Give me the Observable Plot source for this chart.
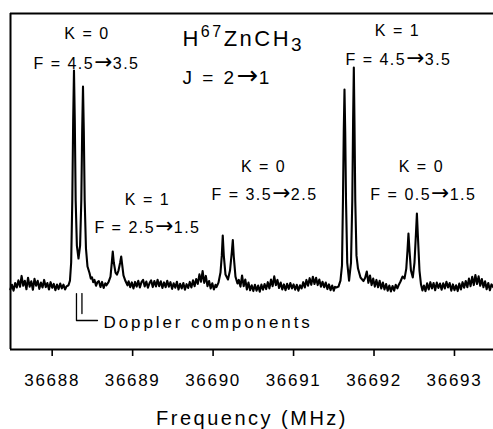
<!DOCTYPE html>
<html><head><meta charset="utf-8">
<script src="https://cdn.jsdelivr.net/npm/d3@7"></script>
<script src="https://cdn.jsdelivr.net/npm/@observablehq/plot@0.6"></script>
<style>
body{margin:0;background:#fff;}
svg{display:block;}
svg text{font-family:"Liberation Sans",Arial,sans-serif;}
g[aria-label="x-axis tick label"] text{letter-spacing:1.7px;}
g[aria-description="annotation"] text{letter-spacing:1.5px;}
g[aria-description="axis-title"] text{letter-spacing:2.5px;}
g[aria-description="doppler-note"] text{letter-spacing:2.9px;}
g[aria-description="species"] text{letter-spacing:2.5px;}
g[aria-description="transition"] text{letter-spacing:2.5px;}
tspan.arrow{font-family:"DejaVu Sans",sans-serif;letter-spacing:0.5px;}
</style></head><body><div id="chart"></div>
<script>
// Spectrum trace (frequency in MHz, intensity in arbitrary units, baseline ~0)
const freq = [
36687.48,36687.50,36687.52,36687.54,36687.56,36687.58,36687.60,36687.62,36687.64,36687.66,
36687.68,36687.70,36687.72,36687.74,36687.76,36687.78,36687.80,36687.82,36687.84,36687.86,
36687.88,36687.90,36687.92,36687.94,36687.96,36687.98,36688.00,36688.02,36688.04,36688.06,
36688.08,36688.10,36688.12,36688.14,36688.16,36688.178,
36688.203,36688.221,36688.236,36688.250,36688.261,36688.271,36688.281,36688.292,36688.307,36688.327,
36688.347,36688.362,36688.373,36688.383,36688.393,36688.404,36688.420,36688.439,36688.464,36688.48,
36688.495,36688.51,36688.526,36688.545,36688.563,
36688.58,36688.60,36688.62,36688.64,36688.66,
36688.675,36688.700,36688.725,36688.741,36688.753,36688.766,36688.787,36688.805,36688.824,36688.845,
36688.858,36688.870,36688.886,36688.911,36688.936,
36688.95,36688.97,36688.99,36689.01,36689.03,36689.05,36689.07,36689.09,36689.11,36689.13,
36689.15,36689.17,36689.19,36689.21,36689.23,36689.25,36689.27,36689.29,36689.31,36689.33,
36689.35,36689.37,36689.39,36689.41,36689.43,36689.45,36689.47,36689.49,36689.51,36689.53,
36689.55,36689.57,36689.59,36689.61,36689.63,36689.65,36689.67,36689.69,36689.71,36689.73,
36689.75,36689.77,36689.79,36689.81,36689.83,36689.85,36689.87,36689.89,36689.91,36689.93,
36689.95,36689.97,36689.99,36690.01,36690.03,
36690.042,36690.067,36690.092,36690.108,36690.120,36690.133,36690.154,36690.185,36690.210,36690.232,
36690.245,36690.257,36690.278,36690.303,
36690.32,36690.34,36690.36,36690.38,36690.40,36690.42,36690.44,36690.46,36690.48,36690.50,
36690.52,36690.54,36690.56,36690.58,36690.60,36690.62,36690.64,36690.66,36690.68,36690.70,
36690.72,36690.74,36690.76,36690.78,36690.80,36690.82,36690.84,36690.86,36690.88,36690.90,
36690.92,36690.94,36690.96,36690.98,36691.00,36691.02,36691.04,36691.06,36691.08,36691.10,
36691.12,36691.14,36691.16,36691.18,36691.20,36691.22,36691.24,36691.26,36691.28,36691.30,
36691.32,36691.34,36691.36,36691.38,36691.40,36691.42,36691.44,36691.46,36691.48,36691.50,
36691.515,
36691.533,36691.558,36691.583,36691.602,36691.614,36691.624,36691.633,36691.642,36691.652,36691.667,
36691.690,36691.714,36691.730,36691.740,36691.749,36691.757,36691.767,36691.782,36691.801,36691.832,
36691.869,
36691.89,36691.91,36691.93,36691.95,36691.97,36691.99,36692.01,36692.03,36692.05,36692.07,
36692.09,36692.11,36692.13,36692.15,36692.17,36692.19,36692.21,36692.23,36692.25,36692.27,
36692.29,
36692.304,36692.329,36692.354,36692.379,36692.401,36692.416,36692.428,36692.441,36692.459,36692.482,
36692.503,36692.520,36692.533,36692.545,36692.565,36692.584,36692.602,
36692.62,36692.64,36692.66,36692.68,36692.70,36692.72,36692.74,36692.76,36692.78,36692.80,
36692.82,36692.84,36692.86,36692.88,36692.90,36692.92,36692.94,36692.96,36692.98,36693.00,
36693.02,36693.04,36693.06,36693.08,36693.10,36693.12,36693.14,36693.16,36693.18,36693.20,
36693.22,36693.24,36693.26,36693.28,36693.30,36693.32,36693.34,36693.36,36693.38,36693.40,
36693.42,36693.44,36693.46,36693.48
];
const intensity = [
-0.8,1.2,-1.4,2.0,0.0,3.2,0.3,5.2,0.8,3.0,
-0.8,4.4,0.4,2.8,-1.0,3.9,0.8,3.0,-0.6,2.2,
0.0,3.4,0.2,2.0,-0.9,2.4,-0.1,1.6,-1.2,1.3,
-0.7,1.8,-0.4,1.3,-0.9,0.5,
1.0,3.1,11.2,39,74.9,97.3,74.9,39,18.8,13.0,
18.8,39,70.4,90.1,70.4,39,17.5,9.4,6.5,4.0,
4.6,2.4,3.4,0.8,2.4,
2.9,0.2,2.5,-0.2,1.9,
1.0,2.4,4.9,11.2,16.1,11.2,6.7,5.8,7.6,11.2,
13.9,10.3,5.4,2.9,1.0,
2.8,0.1,2.3,-0.4,2.5,0.4,3.0,0.0,2.4,3.4,
0.5,2.7,-0.1,2.0,3.2,0.2,2.9,0.5,3.5,0.6,
2.8,-0.2,2.3,0.1,3.0,0.4,2.4,-0.6,1.9,-0.1,
2.6,-0.9,1.7,-0.4,2.0,-1.0,1.5,-0.2,2.5,0.0,
3.2,0.6,3.8,1.6,5.9,2.6,7.4,2.1,5.2,0.6,
2.9,-0.4,1.9,-0.9,1.2,
0.2,2.2,6.7,14.3,23.3,14.3,5.8,3.6,7.6,15.7,
21.3,13.9,4.9,1.8,
3.4,0.4,5.4,0.6,3.6,-0.9,2.2,-1.2,1.0,-1.6,
1.2,-1.4,0.9,-1.9,1.3,-1.0,1.6,-0.7,2.4,-0.4,
3.6,0.6,5.0,1.1,3.4,-0.2,2.2,-0.9,1.4,-1.2,
1.7,-0.6,2.0,-0.4,1.4,-1.0,1.2,-1.4,1.0,-0.4,
2.4,0.0,3.4,0.8,4.2,1.2,4.8,1.6,4.4,1.1,
3.6,0.4,2.6,0.1,2.2,-0.7,1.4,-1.2,0.9,-1.4,
0.3,
0,0.4,3.1,9.9,39,70,88.8,70,39,11.2,
3.1,11.2,39,74.4,98.7,74.4,39,14.3,8.5,4.5,
2.9,
4.4,7.2,2.1,5.4,1.1,4.0,0.4,3.4,0.1,3.0,
-0.4,2.2,-0.9,1.6,-1.4,0.9,-1.8,0.7,-1.4,1.2,
-0.4,
0.9,2.7,4.9,4.0,8.5,16.6,24.2,16.6,7.6,4.5,
11.2,23.3,33.2,23.3,7.6,1.3,-1.3,
0.9,-1.6,1.9,-0.9,2.4,-0.4,2.0,-1.2,2.2,-0.2,
1.8,-1.0,1.9,-0.4,2.6,0.0,2.0,-1.4,1.4,-1.2,
1.0,-1.6,1.8,-0.9,2.4,-0.1,2.9,0.1,4.0,0.6,
4.8,1.1,5.6,1.6,5.0,0.8,3.8,0.1,2.8,-0.8,
2.0,-1.2,1.4,0.2
];

// Axis
const xDomain = [36687.482, 36693.485];
const yDomain = [-27.8, 122.9];
const tickValues = [36688, 36689, 36690, 36691, 36692, 36693];
const axisTitle = "Frequency (MHz)";

// Line assignments (two text rows each)
const labelText = ["K = 0", "F = 4.5\u21923.5", "K = 1", "F = 2.5\u21921.5", "K = 0", "F = 3.5\u21922.5",
                   "K = 1", "F = 4.5\u21923.5", "K = 0", "F = 0.5\u21921.5"];
const labelFreq = [36688.432, 36688.426, 36689.184, 36689.184, 36690.627, 36690.639,
                   36692.291, 36692.304, 36692.589, 36692.614];
const labelLevel = [113.9, 100.4, 39.5, 26.9, 54.3, 41.7, 115.2, 102.2, 54.3, 41.7];

// Species / transition label
const titleParts = ["H", "67", "ZnCH", "3"];
const titleFreq = 36689.619;
const titleLevel = 111.4;
const transitionText = "J = 2\u21921";
const transitionLevel = 94.2;

// Doppler components bracket
const bracketFreq = [36688.302, 36688.302, 36688.563, 36688.370, 36688.370];
const bracketLevel = [-2.7, -14.8, -14.8, -2.7, -11.7];
const bracketPart = ["a", "a", "a", "b", "b"];
const dopplerText = "Doppler components";
const dopplerFreq = 36688.639;
const dopplerLevel = -15.5;

const trace = freq.map((f, i) => ({f, v: intensity[i]}));
const labels = labelText.map((t, i) => ({t, f: labelFreq[i], v: labelLevel[i]}));
const bracket = bracketFreq.map((f, i) => ({f, v: bracketLevel[i], p: bracketPart[i]}));

const chart = Plot.plot({
  width: 493, height: 429,
  marginLeft: 10, marginRight: 0, marginTop: 13, marginBottom: 80,
  x: {domain: xDomain},
  y: {domain: yDomain, axis: null},
  style: {background: "#fff", color: "#000", fontFamily: "Liberation Sans, Arial, sans-serif"},
  marks: [
    Plot.axisX({ticks: tickValues, tickSize: 7, tickPadding: 17, fontSize: 17,
      tickFormat: d => String(d), label: null, strokeWidth: 1.6}),
    Plot.text([axisTitle], {frameAnchor: "bottom", dy: 69, fontSize: 20, lineAnchor: "middle", ariaDescription: "axis-title", fill: "#000"}),
    Plot.line(trace, {x: "f", y: "v", stroke: "#000", strokeWidth: 2.1}),
    Plot.ruleY([yDomain[0], yDomain[1]], {stroke: "#000", strokeWidth: 2}),
    Plot.ruleX([xDomain[0]], {stroke: "#000", strokeWidth: 2}),
    Plot.line(bracket, {x: "f", y: "v", z: "p", stroke: "#000", strokeWidth: 1.3}),
    Plot.text([dopplerText], {x: dopplerFreq, y: dopplerLevel, textAnchor: "start", fontSize: 17, lineAnchor: "middle", ariaDescription: "doppler-note", fill: "#000"}),
    Plot.text(labels, {x: "f", y: "v", text: "t", fontSize: 16, lineAnchor: "middle", ariaDescription: "annotation", fill: "#000"}),
    Plot.text([titleParts.join("")], {x: titleFreq, y: titleLevel, textAnchor: "start", fontSize: 22, lineAnchor: "middle", ariaDescription: "species", fill: "#000"}),
    Plot.text([transitionText], {x: titleFreq, y: transitionLevel, textAnchor: "start", fontSize: 19, lineAnchor: "middle", ariaDescription: "transition", fill: "#000"})
  ]
});

const svg = d3.select(chart);

// Superscript / subscript in species label
svg.selectAll('g[aria-description="species"] text').each(function() {
  const t = d3.select(this);
  t.text(null);
  t.append("tspan").text(titleParts[0]);
  t.append("tspan").attr("dy", -9).attr("font-size", 16).text(titleParts[1]);
  t.append("tspan").attr("dy", 9).text(titleParts[2]);
  t.append("tspan").attr("dy", 5).attr("font-size", 19).text(titleParts[3]);
});

// Larger arrows in transition labels
svg.selectAll('g[aria-description="annotation"] text, g[aria-description="transition"] text').each(function() {
  const t = d3.select(this);
  const s = t.text();
  if (!s.includes("\u2192")) return;
  const size = parseFloat(this.closest("g").getAttribute("font-size")) || 16;
  const [a, b] = s.split("\u2192");
  t.text(null);
  t.append("tspan").text(a);
  t.append("tspan").attr("class", "arrow").attr("font-size", size * 1.35).text("\u2192");
  t.append("tspan").text(b);
});

document.getElementById("chart").appendChild(chart);
</script>
</body></html>
